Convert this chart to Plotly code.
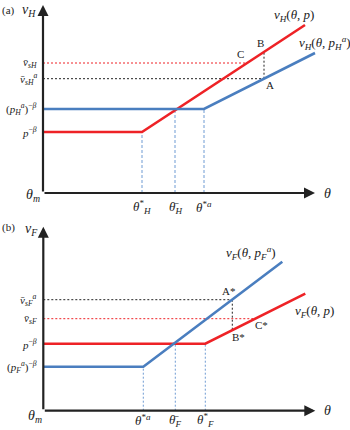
import plotly.graph_objects as go

# ---------------- Panel (a) data (schematic units) ----------------
red_a_x = [0, 9.9, 26.2]
red_a_y = [6.1, 6.1, 16.8]
blue_a_x = [0, 16.1, 27.2]
blue_a_y = [8.4, 8.4, 14.0]
theta_a_ticks = [9.9, 13.2, 16.1]
theta_a_tops = [6.1, 8.4, 8.4]
theta_a_labels = ["<i>θ</i><sup>*</sup><sub><i>H</i></sub>", "<i>θ̄</i><sub><i>H</i></sub>", "<i>θ</i><sup>*<i>a</i></sup>"]
v_a_ticks = [6.1, 8.4, 11.43, 13.0]
v_a_labels = ["<i>p</i><sup>−<i>β</i></sup>", "(<i>p</i><sub><i>H</i></sub><sup><i>a</i></sup>)<sup>−<i>β</i></sup>",
              "<i>v̄</i><sub><i>sH</i></sub><sup><i>a</i></sup>", "<i>v̄</i><sub><i>sH</i></sub>"]
pt_a_x = [22.1, 22.1, 20.4]          # A, B, C
pt_a_y = [11.43, 14.1, 13.0]
pt_a_names = ["A", "B", "C"]

# ---------------- Panel (b) data ----------------
red_b_x = [0, 16.2, 26.2]
red_b_y = [6.7, 6.7, 11.7]
blue_b_x = [0, 10.0, 23.9]
blue_b_y = [4.4, 4.4, 14.9]
theta_b_ticks = [10.0, 13.2, 16.2]
theta_b_tops = [4.4, 6.7, 6.7]
theta_b_labels = ["<i>θ</i><sup>*<i>a</i></sup>", "<i>θ̄</i><sub><i>F</i></sub>", "<i>θ</i><sup>*</sup><sub><i>F</i></sub>"]
v_b_ticks = [4.4, 6.7, 9.2, 11.1]
v_b_labels = ["(<i>p</i><sub><i>F</i></sub><sup><i>a</i></sup>)<sup>−<i>β</i></sup>", "<i>p</i><sup>−<i>β</i></sup>",
              "<i>v̄</i><sub><i>sF</i></sub>", "<i>v̄</i><sub><i>sF</i></sub><sup><i>a</i></sup>"]
pt_b_x = [18.9, 18.9, 21.2]          # A*, B*, C*
pt_b_y = [11.1, 8.05, 9.2]
pt_b_names = ["A*", "B*", "C*"]

AXIS_END = 27.2
AXIS_TOP_A = 18.8
AXIS_TOP_B = 18.4

RED = "#ee2226"
BLUE = "#4a7ebf"
DASHBLUE = "#6f9bd3"
FONT = "Liberation Serif"

fig = go.Figure()

def seg(x, y, xa, ya, color, width, dash="solid"):
    fig.add_trace(go.Scatter(x=x, y=y, mode="lines", xaxis=xa, yaxis=ya,
                             line=dict(color=color, width=width, dash=dash), hoverinfo="skip"))

# panel a
seg([0, pt_a_x[0]], [pt_a_y[0], pt_a_y[0]], "x", "y", "#222222", 1, "2px,2px")
seg([0, pt_a_x[2]], [pt_a_y[2], pt_a_y[2]], "x", "y", RED, 1, "2px,2px")
seg([pt_a_x[0], pt_a_x[1]], [pt_a_y[0], pt_a_y[1]], "x", "y", "#222222", 1, "2px,2px")
for t, top in zip(theta_a_ticks, theta_a_tops):
    seg([t, t], [0, top], "x", "y", DASHBLUE, 1, "3px,2px")
seg(red_a_x, red_a_y, "x", "y", RED, 2.6)
seg(blue_a_x, blue_a_y, "x", "y", BLUE, 2.6)

# panel b
seg([0, pt_b_x[0]], [pt_b_y[0], pt_b_y[0]], "x2", "y2", "#222222", 1, "2px,2px")
seg([0, pt_b_x[2]], [pt_b_y[2], pt_b_y[2]], "x2", "y2", RED, 1, "2px,2px")
seg([pt_b_x[0], pt_b_x[1]], [pt_b_y[0], pt_b_y[1]], "x2", "y2", "#222222", 1, "2px,2px")
for t, top in zip(theta_b_ticks, theta_b_tops):
    seg([t, t], [0, top], "x2", "y2", DASHBLUE, 1, "2px,2px")
seg(red_b_x, red_b_y, "x2", "y2", RED, 2.6)
seg(blue_b_x, blue_b_y, "x2", "y2", BLUE, 2.6)

ann = []
def txt(x, y, s, xr, yr, size=12, xanchor="center", yanchor="middle", color="#222222"):
    ann.append(dict(x=x, y=y, xref=xr, yref=yr, text=s, showarrow=False, xanchor=xanchor, yanchor=yanchor,
                    font=dict(family=FONT, size=size, color=color)))

def arrow(x0, y0, x1, y1, xr, yr):
    ann.append(dict(x=x1, y=y1, ax=x0, ay=y0, xref=xr, yref=yr, axref=xr, ayref=yr, text="",
                    showarrow=True, arrowhead=2, arrowsize=1.0, arrowwidth=2.2, arrowcolor="#222222"))

# axes
arrow(0, 0, AXIS_END, 0, "x", "y")
arrow(0, 0, 0, AXIS_TOP_A, "x", "y")
arrow(0, 0, AXIS_END, 0, "x2", "y2")
arrow(0, 0, 0, AXIS_TOP_B, "x2", "y2")

# panel (a) texts
txt(-3.5, 18.3, "(a)", "x", "y", 11)
txt(-1.4, 18.3, "<i>v</i><sub><i>H</i></sub>", "x", "y", 14)
for v, lab in zip(v_a_ticks, v_a_labels):
    txt(-0.4, v, lab, "x", "y", 11, xanchor="right")
txt(-1.0, -0.2, "<i>θ</i><sub><i>m</i></sub>", "x", "y", 14)
for t, lab in zip(theta_a_ticks, theta_a_labels):
    txt(t, -1.4, lab, "x", "y", 13)
txt(28.4, 0, "<i>θ</i>", "x", "y", 14)
txt(22.9, 17.8, "<i>v</i><sub><i>H</i></sub>(<i>θ</i>, <i>p</i>)", "x", "y", 13, xanchor="left")
txt(25.4, 15.0, "<i>v</i><sub><i>H</i></sub>(<i>θ</i>, <i>p</i><sub><i>H</i></sub><sup><i>a</i></sup>)", "x", "y", 13, xanchor="left")
txt(22.7, 10.8, "A", "x", "y", 11)
txt(21.7, 15.0, "B", "x", "y", 11)
txt(19.7, 13.9, "C", "x", "y", 11)

# panel (b) texts
txt(-3.5, 18.3, "(b)", "x2", "y2", 11)
txt(-1.2, 18.1, "<i>v</i><sub><i>F</i></sub>", "x2", "y2", 14)
for v, lab in zip(v_b_ticks, v_b_labels):
    txt(-0.4, v, lab, "x2", "y2", 11, xanchor="right")
txt(-0.8, -0.6, "<i>θ</i><sub><i>m</i></sub>", "x2", "y2", 14)
for t, lab in zip(theta_b_ticks, theta_b_labels):
    txt(t, -0.95, lab, "x2", "y2", 13)
txt(28.4, 0, "<i>θ</i>", "x2", "y2", 14)
txt(18.1, 15.8, "<i>v</i><sub><i>F</i></sub>(<i>θ</i>, <i>p</i><sub><i>F</i></sub><sup><i>a</i></sup>)", "x2", "y2", 13, xanchor="left")
txt(25.0, 9.9, "<i>v</i><sub><i>F</i></sub>(<i>θ</i>, <i>p</i>)", "x2", "y2", 13, xanchor="left")
txt(18.5, 12.0, "A*", "x2", "y2", 11)
txt(19.5, 7.4, "B*", "x2", "y2", 11)
txt(21.8, 8.6, "C*", "x2", "y2", 11)

hidden = dict(visible=False, showgrid=False, zeroline=False, fixedrange=True)
fig.update_layout(
    width=350, height=430, margin=dict(l=0, r=0, t=0, b=0),
    paper_bgcolor="white", plot_bgcolor="white", showlegend=False,
    xaxis=dict(domain=[0, 1], range=[-4.3, 30.7], anchor="y", **hidden),
    yaxis=dict(domain=[0.5, 1], range=[-2.2, 19.3], anchor="x", **hidden),
    xaxis2=dict(domain=[0, 1], range=[-4.33, 30.67], anchor="y2", **hidden),
    yaxis2=dict(domain=[0, 0.5], range=[-1.93, 19.57], anchor="x2", **hidden),
    annotations=ann,
)
fig.write_html("out.html", config={"displayModeBar": False, "staticPlot": True},
               post_script="document.body.style.margin='0px';document.body.style.overflow='hidden';")
